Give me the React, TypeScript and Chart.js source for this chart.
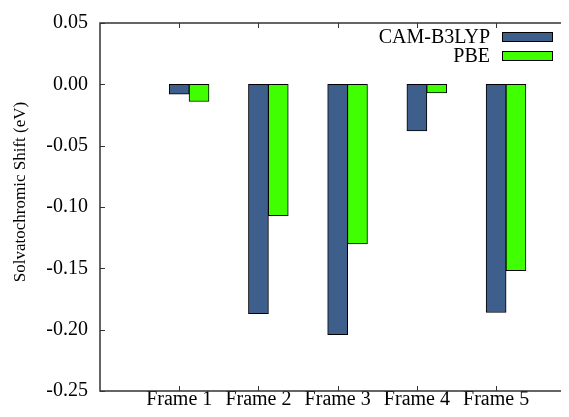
import React, { useEffect, useRef } from "react";
import { Chart, registerables } from "chart.js";

Chart.register(...registerables);

const categories = ["Frame 1", "Frame 2", "Frame 3", "Frame 4", "Frame 5"];
const camB3lyp = [-0.008, -0.187, -0.204, -0.038, -0.186];
const pbe = [-0.014, -0.107, -0.130, -0.007, -0.152];
const seriesLabels = ["CAM-B3LYP", "PBE"];
const yTicks = [-0.25, -0.2, -0.15, -0.1, -0.05, 0.0, 0.05];
const yTitle = "Solvatochromic Shift (eV)";
const X_MIN = 0;
const X_MAX = 5.92; // the right edge of the original plot is cropped

const FONT = "'Liberation Serif', 'Times New Roman', serif";
const BLUE = "#3E5F8B";
const GREEN = "#40FF00";
const CLUSTER_OFFSET = 0.25;

const framePlugin = {
  id: "framePlugin",
  afterDraw(chart: any) {
    const ctx = chart.ctx;
    const xs = chart.scales.x;
    const ys = chart.scales.y;
    const left = xs.getPixelForValue(X_MIN);
    const right = chart.width;
    const top = ys.getPixelForValue(ys.max);
    const bottom = ys.getPixelForValue(ys.min);
    ctx.save();
    ctx.strokeStyle = "#333";
    ctx.lineWidth = 1.5;
    ctx.beginPath();
    ctx.moveTo(right, top);
    ctx.lineTo(left, top);
    ctx.lineTo(left, bottom);
    ctx.lineTo(right, bottom);
    ctx.stroke();
    ctx.lineWidth = 1;
    ctx.beginPath();
    const tl = 5;
    categories.forEach((_, i) => {
      const px = Math.round(xs.getPixelForValue(i + 1)) + 0.5;
      ctx.moveTo(px, bottom);
      ctx.lineTo(px, bottom - tl);
      ctx.moveTo(px, top);
      ctx.lineTo(px, top + tl);
    });
    yTicks.forEach((v) => {
      const py = Math.round(ys.getPixelForValue(v)) + 0.5;
      ctx.moveTo(left, py);
      ctx.lineTo(left + tl, py);
    });
    ctx.stroke();

    // legend (text left of swatch)
    ctx.font = `20px ${FONT}`;
    ctx.textAlign = "right";
    ctx.textBaseline = "middle";
    chart.data.datasets.forEach((ds: any, i: number) => {
      const cy = 29 + 19 * i;
      ctx.fillStyle = "#000";
      ctx.fillText(ds.label, 482, cy + 1);
      ctx.fillStyle = ds.backgroundColor;
      ctx.fillRect(494, cy - 5, 51, 10);
      ctx.strokeStyle = "#000";
      ctx.lineWidth = 1;
      ctx.strokeRect(494.5, cy - 4.5, 50, 9);
    });

    // y axis title
    ctx.save();
    ctx.translate(13, 184);
    ctx.rotate(-Math.PI / 2);
    ctx.font = `17px ${FONT}`;
    ctx.textAlign = "center";
    ctx.textBaseline = "middle";
    ctx.fillStyle = "#000";
    ctx.fillText(yTitle, 0, 0);
    ctx.restore();
    ctx.restore();
  },
};

export default function App() {
  const ref = useRef<HTMLCanvasElement | null>(null);
  useEffect(() => {
    const canvas = ref.current!;
    const chart = new Chart(canvas, {
      type: "bar",
      data: {
        datasets: [
          {
            label: seriesLabels[0],
            data: camB3lyp.map((y, i) => ({ x: i + 1, y })),
            backgroundColor: BLUE,
            borderColor: "#000",
            borderWidth: 1,
            borderSkipped: false,
          },
          {
            label: seriesLabels[1],
            data: pbe.map((y, i) => ({ x: i + 1 + CLUSTER_OFFSET, y })),
            backgroundColor: GREEN,
            borderColor: "#000",
            borderWidth: 1,
            borderSkipped: false,
          },
        ],
      },
      options: {
        responsive: false,
        animation: false,
        events: [],
        datasets: { bar: { grouped: false, barThickness: 20 } } as any,
        layout: { padding: { top: 15, right: 0, left: 0, bottom: 0 } },
        plugins: { legend: { display: false }, tooltip: { enabled: false } },
        scales: {
          x: {
            type: "linear",
            offset: false,
            min: X_MIN,
            max: X_MAX,
            grid: { display: false, drawTicks: false },
            border: { display: false },
            afterBuildTicks: (scale: any) => {
              scale.ticks = categories.map((_, i) => ({ value: i + 1 }));
            },
            afterFit: (scale: any) => {
              scale.height = 17;
              scale.paddingLeft = 0;
              scale.paddingRight = 0;
            },
            ticks: {
              autoSkip: false,
              maxRotation: 0,
              padding: -3,
              color: "#000",
              font: { family: FONT, size: 20 },
              callback: (v: any) => categories[Math.round(v) - 1] ?? "",
            },
          },
          y: {
            min: -0.25,
            max: 0.05,
            grid: { display: false, drawTicks: false },
            border: { display: false },
            afterBuildTicks: (scale: any) => {
              scale.ticks = yTicks.map((v) => ({ value: v }));
            },
            afterFit: (scale: any) => {
              scale.width = 92;
              scale.paddingTop = 0;
              scale.paddingBottom = 0;
            },
            ticks: {
              padding: 12,
              color: "#000",
              font: { family: FONT, size: 20 },
              callback: (v: any) => Number(v).toFixed(2),
            },
          },
        },
      },
      plugins: [framePlugin],
    });
    return () => chart.destroy();
  }, []);
  return (
    <div style={{ width: 561, height: 400 }}>
      <canvas ref={ref} width={561} height={400} style={{ display: "block" }} />
    </div>
  );
}
